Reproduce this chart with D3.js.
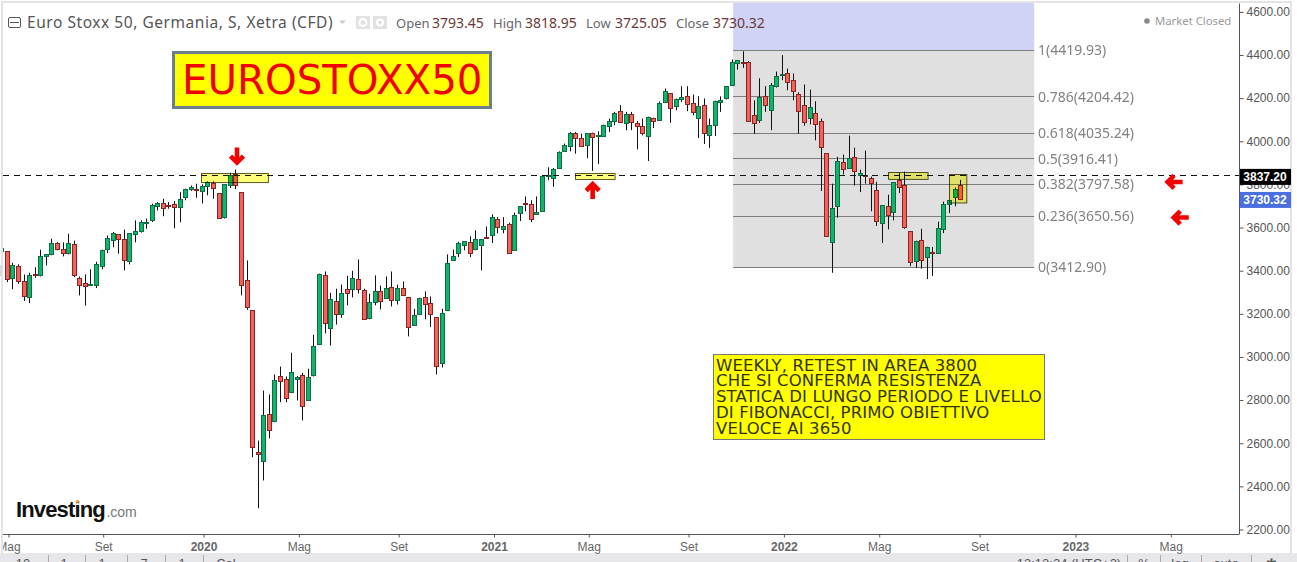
<!DOCTYPE html>
<html><head><meta charset="utf-8">
<script src="https://cdn.jsdelivr.net/npm/d3@7/dist/d3.min.js"></script>
<style>html,body{margin:0;padding:0;background:#fff;overflow:hidden}svg{display:block}text{font-kerning:normal}</style>
</head><body><svg id="c" width="1297" height="562"></svg>
<script>
const opens=[3489,3487,3359,3416,3346,3270,3379,3376,3461,3472,3523,3495,3476,3518,3360,3337,3328,3326,3419,3495,3537,3564,3541,3438,3564,3577,3620,3628,3694,3708,3699,3704,3690,3735,3772,3776,3762,3786,3801,3755,3642,3792,3844,3759,3351,3213,2553,2514,2729,2695,2906,2892,2830,2890,2910,2793,2912,3057,3374,3127,3254,3192,3309,3308,3356,3305,3173,3251,3300,3268,3319,3257,3314,3272,3141,3196,3272,3244,3179,2964,3212,3442,3476,3518,3530,3495,3512,3552,3563,3634,3586,3611,3489,3660,3711,3704,3656,3674,3834,3827,3869,3948,3976,4033,4010,3976,4033,4018,4019,4066,4089,4134,4078,4121,4080,4066,4018,4101,4093,4177,4219,4158,4189,4205,4172,4101,4163,4024,4070,4177,4194,4256,4358,4363,4363,4117,4092,4205,4140,4251,4302,4312,4279,4214,4162,4103,4126,4089,3940,3527,3694,3899,3871,3922,3841,3838,3824,3769,3615,3694,3666,3815,3792,3578,3439,3537,3458,3482,3476,3588,3704,3736,3793.45];
const closes=[3501,3356,3421,3345,3275,3374,3373,3462,3472,3523,3493,3476,3523,3373,3326,3323,3332,3425,3492,3546,3571,3540,3442,3569,3578,3620,3623,3699,3708,3684,3694,3688,3727,3773,3783,3773,3787,3806,3776,3637,3795,3838,3795,3326,3224,2579,2542,2725,2654,2887,2881,2802,2924,2901,2765,2901,3045,3380,3150,3263,3196,3291,3289,3360,3308,3170,3249,3300,3252,3314,3257,3314,3280,3133,3189,3268,3238,3192,2950,3198,3430,3462,3523,3535,3481,3541,3541,3549,3645,3595,3602,3476,3653,3694,3707,3633,3667,3834,3838,3868,3945,3977,4035,4010,3971,4033,4013,4024,4070,4089,4126,4084,4121,4084,4064,4033,4107,4089,4172,4228,4149,4191,4200,4168,4131,4158,4033,4070,4182,4185,4251,4363,4370,4358,4089,4080,4200,4163,4256,4298,4307,4270,4228,4135,4083,4154,4075,3968,3555,3685,3903,3866,3917,3857,3848,3835,3800,3625,3699,3651,3806,3783,3597,3434,3532,3444,3504,3478,3592,3704,3722,3773,3730.32];
const highs=[3505,3487,3434,3427,3380,3388,3414,3495,3472,3546,3530,3529,3569,3537,3371,3380,3404,3439,3495,3561,3577,3564,3588,3572,3631,3631,3639,3708,3716,3731,3716,3721,3762,3778,3793,3801,3798,3812,3812,3755,3798,3852,3866,3759,3445,3213,2610,2842,2824,2916,2953,2907,3017,2909,2924,2943,3100,3384,3394,3295,3314,3333,3374,3397,3450,3314,3291,3376,3329,3371,3394,3333,3348,3272,3221,3272,3302,3278,3179,3221,3473,3496,3532,3535,3557,3585,3541,3603,3659,3646,3646,3620,3667,3694,3742,3724,3742,3840,3877,3874,3951,3987,4041,4041,4033,4033,4038,4044,4075,4103,4134,4165,4134,4134,4092,4103,4112,4107,4182,4242,4219,4196,4253,4253,4214,4206,4196,4103,4186,4206,4251,4377,4370,4415,4370,4188,4290,4253,4268,4321,4397,4335,4312,4225,4261,4237,4183,4103,3940,3801,3926,3936,4024,3968,3866,3954,3834,3810,3699,3750,3806,3852,3857,3578,3537,3592,3509,3507,3625,3718,3722,3783,3818.95];
const lows=[3485,3345,3312,3337,3257,3247,3365,3371,3422,3469,3492,3464,3473,3368,3283,3236,3326,3317,3404,3479,3506,3476,3399,3427,3529,3574,3592,3623,3677,3650,3685,3594,3622,3724,3767,3736,3710,3747,3731,3637,3639,3781,3776,3283,3216,2533,2296,2425,2620,2695,2788,2788,2830,2796,2703,2793,2907,3057,3107,3051,3148,3179,3237,3274,3292,3170,3173,3237,3218,3268,3232,3241,3280,3093,3141,3196,3172,3136,2916,2949,3212,3442,3461,3492,3461,3492,3399,3549,3526,3571,3571,3476,3489,3628,3673,3623,3656,3674,3817,3786,3869,3948,3951,3940,3971,3919,3860,3892,4019,4041,4072,4084,4049,4049,3960,4025,3906,4059,4093,4177,4083,4141,4180,4137,4118,4013,3985,3967,4022,4134,4191,4256,4330,4338,4089,4032,4083,4134,4049,4247,4281,4234,4188,4033,4070,4076,4002,3767,3555,3388,3643,3844,3871,3793,3762,3801,3673,3605,3526,3589,3631,3758,3592,3419,3410,3407,3359,3373,3476,3572,3665,3696,3725.05];

const priceTicks=[2200,2400,2600,2800,3000,3200,3400,3600,3800,4000,4200,4400,4600];
const timeTicks=[0.2,17.2,35.2,52.3,70.2,87.3,104.3,122.2,139.3,156.4,174.4,191.6,208.7];
const timeLabels=["Mag","Set","2020","Mag","Set","2021","Mag","Set","2022","Mag","Set","2023","Mag"];
const boldLabels=["2020","2021","2022","2023"];
const fibLevels=[1,0.786,0.618,0.5,0.382,0.236,0];
const fibPrices=[4419.93,4204.42,4035.24,3916.41,3797.58,3650.56,3412.90];
const fibStartBar=130.2, fibEndBar=184.2, fibTopPrice=4780;
const resistance=3837.20, lastClose=3730.32;
const zoneBars=[[34.9,46.9],[102,109.1],[158,165.1],[169,172.1]];
const zonePrices=[[3849,3807],[3848,3820],[3852,3820],[3843,3711]];
const arrowBars=[41.2,105,209.3,210.4];
const arrowPrices=[3929,3769,3809,3644];
const arrowAngles=[0,180,90,90];
const noteLines=["WEEKLY, RETEST IN AREA 3800","CHE SI CONFERMA RESISTENZA","STATICA DI LUNGO PERIODO E LIVELLO","DI FIBONACCI, PRIMO OBIETTIVO","VELOCE AI 3650"];

const UI='"Noto Sans",sans-serif', AX='"Liberation Sans",Arial,sans-serif', VD='"DejaVu Sans",sans-serif';
const svg=d3.select("#c");
const x=d3.scaleLinear().domain([-1,171]).range([1.73,960.6]);
const y=d3.scaleLinear().domain([3412.9,4419.93]).range([267.4,50.2]);
const snap=v=>Math.round(v-0.5)+0.5;
const defs=svg.append("defs");
defs.append("clipPath").attr("id","plot").append("rect").attr("x",3).attr("y",3).attr("width",1236).attr("height",531);

// frame
svg.append("rect").attr("x",2).attr("y",2).attr("width",1289).attr("height",552).attr("fill","#fff").attr("stroke","#dcdcdc").attr("stroke-width",1.5);
svg.append("rect").attr("x",0).attr("y",265).attr("width",2).attr("height",11).attr("fill","#dadada");
svg.append("rect").attr("x",0).attr("y",553).attr("width",1297).attr("height",9).attr("fill","#e7e7eb");

const plot=svg.append("g").attr("clip-path","url(#plot)");
// fibonacci block
const fx0=x(fibStartBar),fx1=x(fibEndBar);
plot.append("rect").attr("x",fx0).attr("y",y(fibTopPrice)).attr("width",fx1-fx0).attr("height",y(fibPrices[0])-y(fibTopPrice)).attr("fill","#d0d2f6");
plot.append("rect").attr("x",fx0).attr("y",y(fibPrices[0])).attr("width",fx1-fx0).attr("height",y(fibPrices[6])-y(fibPrices[0])).attr("fill","#e0e0e0");
plot.selectAll(".fib").data(fibPrices).join("line").attr("x1",fx0).attr("x2",fx1).attr("y1",d=>snap(y(d))).attr("y2",d=>snap(y(d))).attr("stroke","#7d7d7d").attr("stroke-width",1);
plot.selectAll(".fl").data(fibPrices).join("text").attr("x",1038).attr("y",d=>y(d)+5).attr("font-family",UI).attr("font-size",14).attr("fill","#828282")
 .text((d,i)=>fibLevels[i]+"("+d.toFixed(2)+")");

// candles: the first stored bar is the one cut by the left edge, index -1
const idx=d3.range(opens.length);
const bx=i=>snap(x(i-1));
plot.selectAll(".w").data(idx).join("line").attr("x1",bx).attr("x2",bx).attr("y1",i=>y(highs[i])).attr("y2",i=>y(lows[i])).attr("stroke","#111").attr("stroke-width",1);
plot.selectAll(".b").data(idx).join("rect")
 .attr("x",i=>bx(i)-2).attr("width",4)
 .attr("y",i=>snap(y(Math.max(opens[i],closes[i]))))
 .attr("height",i=>Math.max(1,Math.round(Math.abs(y(opens[i])-y(closes[i])))))
 .attr("fill",i=>closes[i]>=opens[i]?"#14b36b":"#f3635b")
 .attr("stroke",i=>closes[i]>=opens[i]?"#0d6e43":"#8c2323").attr("stroke-width",1);

// resistance
svg.append("line").attr("x1",3).attr("x2",1239).attr("y1",snap(y(resistance))).attr("y2",snap(y(resistance))).attr("stroke","#111").attr("stroke-width",1).attr("stroke-dasharray","6,5");

// zones
plot.selectAll(".z").data(zoneBars).join("rect")
 .attr("x",d=>snap(x(d[0]))).attr("width",d=>x(d[1])-x(d[0]))
 .attr("y",(d,i)=>snap(y(zonePrices[i][0]))).attr("height",(d,i)=>y(zonePrices[i][1])-y(zonePrices[i][0]))
 .attr("fill","#ffff78").attr("stroke","#5a5a20").attr("stroke-width",1).style("mix-blend-mode","multiply");

// arrows
svg.selectAll(".a").data(arrowBars).join("path")
 .attr("transform",(d,i)=>`translate(${x(d)},${y(arrowPrices[i])}) rotate(${arrowAngles[i]})`)
 .attr("d","M0,-8.5V6M-6.5,0L0,6.5L6.5,0").attr("fill","none").attr("stroke","#f40000").attr("stroke-width",4.6).attr("stroke-linejoin","miter");

// axes
const yAxis=d3.axisRight(y).tickValues(priceTicks).tickFormat(d3.format(".2f")).tickSize(4).tickPadding(3);
const gy=svg.append("g").attr("transform","translate(1239.5,0.5)").call(yAxis);
gy.select(".domain").attr("d","M0,3V534").attr("stroke","#555");
gy.selectAll("line").attr("stroke","#555");
gy.selectAll("text").attr("font-family",AX).attr("font-size",12).attr("fill","#555");

const xAxis=d3.axisBottom(x).tickValues(timeTicks).tickFormat((d,i)=>timeLabels[i]).tickSize(3).tickPadding(5);
defs.append("clipPath").attr("id","xclipLocal").append("rect").attr("x",3).attr("y",-5).attr("width",1290).attr("height",30);
const gx=svg.append("g").attr("transform","translate(0,534.5)").attr("clip-path","url(#xclipLocal)").call(xAxis);
gx.select(".domain").attr("d","M3,0H1239").attr("stroke","#555");
gx.selectAll("line").attr("stroke","#555");
gx.selectAll("text").attr("font-family",AX).attr("font-size",12).attr("fill","#666")
 .attr("font-weight",function(){return boldLabels.includes(this.textContent)?"bold":"normal"});

// price tags
svg.append("rect").attr("x",1240).attr("y",y(resistance)-7).attr("width",51).attr("height",16).attr("fill","#000");
svg.append("text").attr("x",1265).attr("y",y(resistance)+5.5).attr("text-anchor","middle").attr("font-family",AX).attr("font-weight","bold").attr("font-size",12).attr("fill","#fff").text(resistance.toFixed(2));
svg.append("rect").attr("x",1240).attr("y",y(lastClose)-7).attr("width",51).attr("height",16).attr("fill","#4a6fe0");
svg.append("text").attr("x",1265).attr("y",y(lastClose)+5.5).attr("text-anchor","middle").attr("font-family",AX).attr("font-weight","bold").attr("font-size",12).attr("fill","#fff").text(lastClose.toFixed(2));

// header
const hdr=svg.append("g");
hdr.append("rect").attr("x",8.5).attr("y",17.5).attr("width",12).attr("height",10).attr("rx",1.5).attr("fill","#fff").attr("stroke","#555");
hdr.append("line").attr("x1",10).attr("x2",19).attr("y1",22.5).attr("y2",22.5).attr("stroke","#555");
hdr.append("text").attr("x",27).attr("y",28).attr("font-family",UI).attr("font-size",15.5).attr("letter-spacing",0.55).attr("fill","#555").text("Euro Stoxx 50, Germania, S, Xetra (CFD)");
hdr.append("path").attr("d","M339,20.5h7l-3.5,3.5z").attr("fill","#ccc");
[356,373].forEach((xx,k)=>{hdr.append("rect").attr("x",xx).attr("y",16).attr("width",14).attr("height",13).attr("fill","#e2e2e2");
 hdr.append("circle").attr("cx",xx+7).attr("cy",22.5).attr("r",k?3:3.5).attr("fill","none").attr("stroke","#fff").attr("stroke-width",2);});
const ohlcNames=["Open","High","Low","Close"],ohlcVals=["3793.45","3818.95","3725.05","3730.32"],nameX=[396,493,586,676],valX=[432,525,615,713];
ohlcNames.forEach((n,i)=>{
 hdr.append("text").attr("x",nameX[i]).attr("y",28).attr("font-family",UI).attr("font-size",13).attr("fill","#666").text(n);
 hdr.append("text").attr("x",valX[i]).attr("y",28).attr("font-family",UI).attr("font-size",14).attr("fill","#6a3a3a").text(ohlcVals[i]);
});
hdr.append("circle").attr("cx",1147).attr("cy",21).attr("r",2.8).attr("fill","#8a8a8a");
hdr.append("text").attr("x",1155).attr("y",25).attr("font-family",UI).attr("font-size",11.3).attr("fill","#9a9a9a").text("Market Closed");

// title box
svg.append("rect").attr("x",173.5).attr("y",52.5).attr("width",317).attr("height",55).attr("fill","#ffff00").attr("stroke","#6c7f8d").attr("stroke-width",3);
svg.append("text").attr("x",182).attr("y",94).attr("font-family",VD).attr("font-size",40.3).attr("fill","#f00000").text("EUROSTOXX50");

// note
svg.append("rect").attr("x",713.5).attr("y",354.5).attr("width",331).attr("height",85).attr("fill","#ffff00").attr("stroke","#777").attr("stroke-width",1);
svg.selectAll(".n").data(noteLines).join("text").attr("x",716).attr("y",(d,i)=>370.5+i*15.8).attr("font-family",VD).attr("font-size",16.5).attr("letter-spacing",0.12).attr("fill","#333300").text(d=>d);

// logo
const logo=svg.append("text").attr("x",16).attr("y",516.5).attr("font-family",AX);
logo.append("tspan").attr("font-weight","bold").attr("font-size",22).attr("letter-spacing",-0.85).attr("fill","#111").text("Investing");
logo.append("tspan").attr("font-size",14).attr("dx",1.5).attr("fill","#777").text(".com");
svg.append("circle").attr("cx",77.5).attr("cy",501.5).attr("r",1.6).attr("fill","#f0a020");

// bottom toolbar, cut by the window edge
const barSeps=[48,85,127,165,203,1127,1160,1201,1251];
svg.selectAll(".s").data(barSeps).join("line").attr("x1",d=>d+0.5).attr("x2",d=>d+0.5).attr("y1",555).attr("y2",562).attr("stroke","#aaa");
const barText=[["10",23],["1",64],["1",102],["7",144],["1",182],["Cal",226],["13:13:24 (UTC+2)",1069],["%",1144],["log",1180],["auto",1226],["✱",1271]];
svg.selectAll(".t").data(barText).join("text").attr("x",d=>d[1]).attr("y",568).attr("text-anchor","middle").attr("font-family",AX).attr("font-size",13).attr("fill","#555").text(d=>d[0]);
</script></body></html>
